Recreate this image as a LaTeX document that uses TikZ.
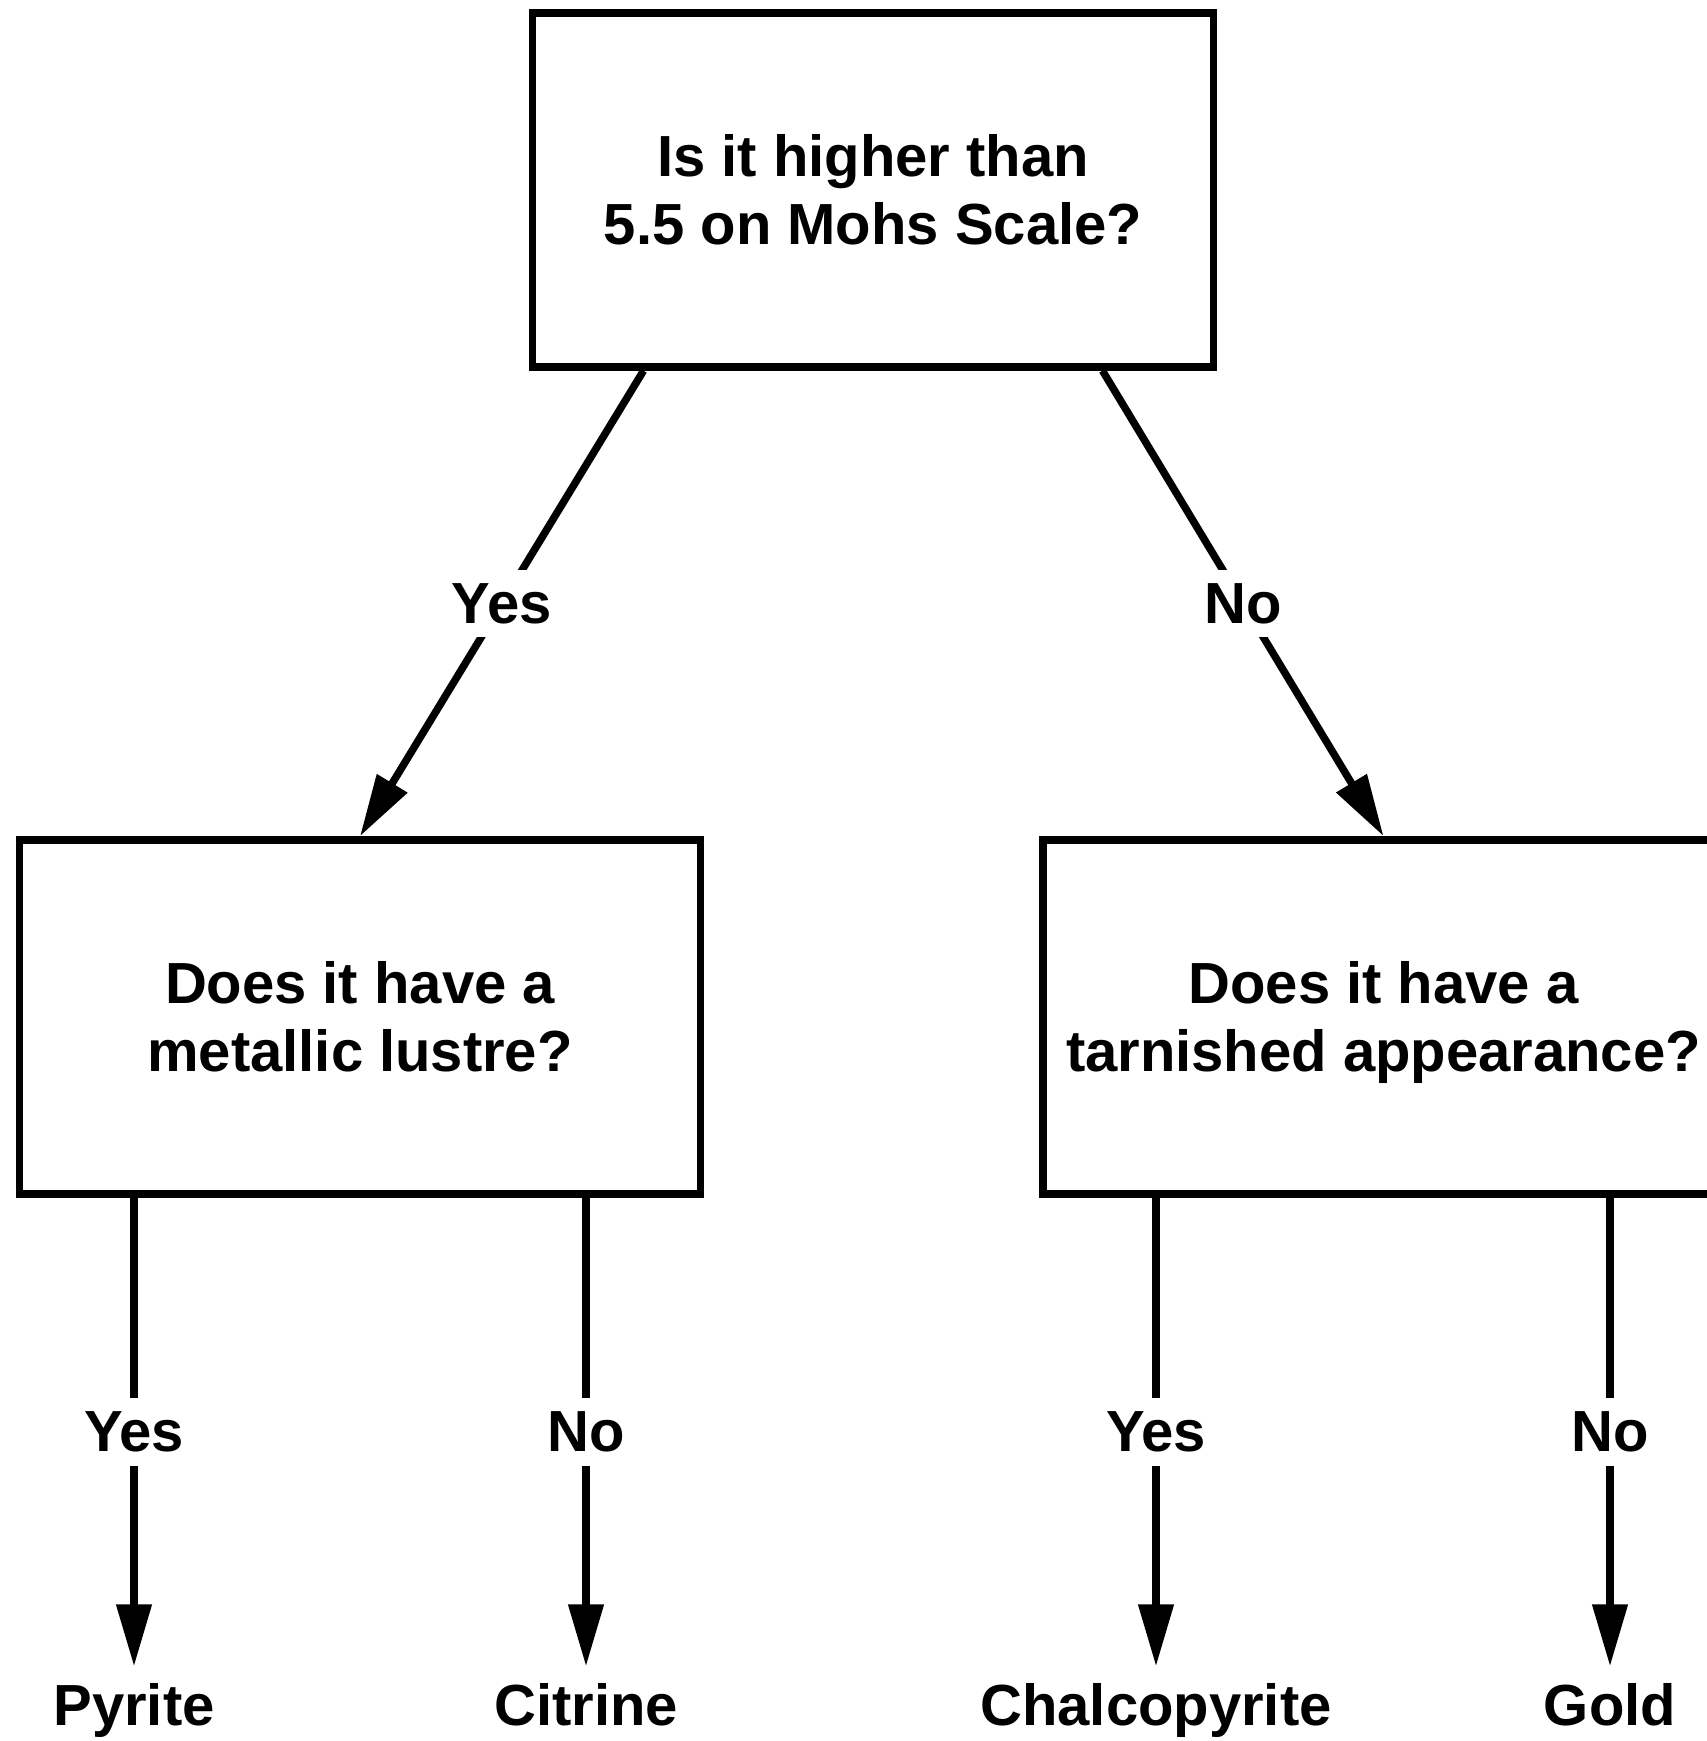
\documentclass[tikz,border=0pt]{standalone}
\usepackage{fontspec}
\setmainfont{Liberation Sans}
\usetikzlibrary{arrows.meta}
\usetikzlibrary{positioning, calc}
\tikzset{
  >={Triangle[length=6.2mm,width=3.4mm]},
  question/.style={draw, line width=0.75mm, minimum width=6.81cm, minimum height=3.54cm, align=center, inner sep=0pt, text depth=0.2pt},
  answer/.style={fill=white, inner sep=3.8pt},
  leaf/.style={anchor=base, inner sep=4.8pt},
  connect/.style={line width=0.75mm, ->}
}
\begin{document}
\begin{tikzpicture}[font=\fontsize{16.5}{19.5}\selectfont\bfseries]
  \useasboundingbox (0,0) rectangle (17.07,17.41);

  % --- LEVEL 1: HARDNESS QUESTION ---
  \node[question] (Q1) at (8.73, 15.51) {Is it higher than\\5.5 on Mohs Scale?};

  % --- LEVEL 2: LUSTRE / TARNISH QUESTIONS ---
  \node[question] (Q2-1) at (3.60, 7.24) {Does it have a\\metallic lustre?};
  \node[question] (Q2-2) at (13.835, 7.24) {Does it have a\\tarnished appearance?};

  % --- LEVEL 3: MINERALS ---
  \node[leaf] (L3-1) at (1.34, 0.15) {Pyrite};
  \node[leaf] (L3-2) at (5.86, 0.15) {Citrine};
  \node[leaf] (L3-3) at (11.56, 0.15) {Chalcopyrite};
  \node[leaf] (L3-4) at (16.10, 0.15) {Gold};

  % --- CONNECTIONS: LEVEL 1 -> LEVEL 2 ---
  \draw[connect] ($(Q1.south west)!1/6!(Q1.south east)$) -- node[answer] {Yes} (Q2-1.north);
  \draw[connect] ($(Q1.south west)!5/6!(Q1.south east)$) -- node[answer] {No} (Q2-2.north);

  % --- CONNECTIONS: LEVEL 2 -> LEVEL 3 ---
  \foreach \q/\l/\t in {Q2-1/L3-1/Yes, Q2-1/L3-2/No, Q2-2/L3-3/Yes, Q2-2/L3-4/No} {
    \draw[connect] (\l |- \q.south) -- node[answer] {\t} (\l.north);
  }

\end{tikzpicture}
\end{document}
